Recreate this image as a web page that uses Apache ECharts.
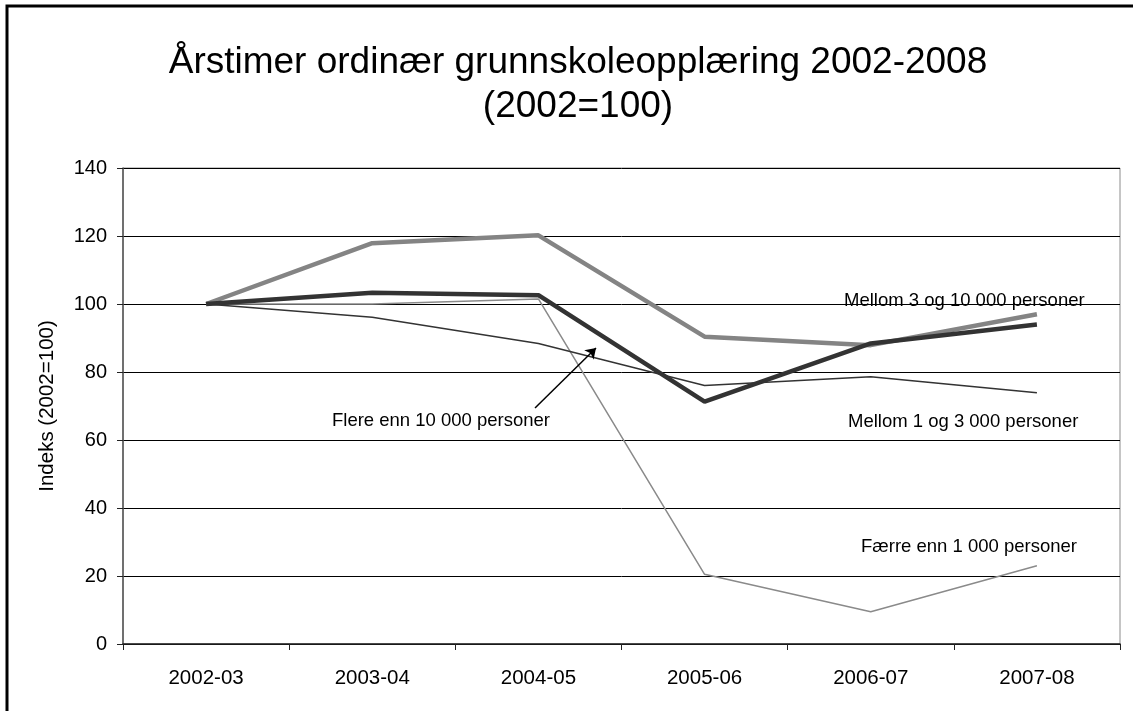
<!DOCTYPE html>
<html>
<head>
    <meta charset="UTF-8">
    <title>Årstimer ordinær grunnskoleopplæring</title>
    <script src="https://cdn.jsdelivr.net/npm/echarts@6/dist/echarts.min.js"></script>
    <style>
        body, html {
            margin: 0;
            padding: 0;
            height: 100%;
            width: 100%;
            background: #fff;
        }

        #chart {
            width: 1133px;
            height: 711px;
        }
    </style>
</head>
<body>
<div id="chart"></div>
<script>
    var years = ['2002-03', '2003-04', '2004-05', '2005-06', '2006-07', '2007-08'];
    var mellom3og10000 = [100, 117.9, 120.2, 90.4, 87.9, 97.0];
    var flere10000 = [100, 103.3, 102.6, 71.3, 88.4, 94.0];
    var mellom1og3000 = [100, 96.1, 88.4, 76.0, 78.6, 73.9];
    var faerre1000 = [100, 100, 101.5, 20.5, 9.5, 23.0];
    var yTicks = {min: 0, max: 140, interval: 20};

    var font = 'Liberation Sans, Arial, sans-serif';
    var chart = echarts.init(document.getElementById('chart'), null, {renderer: 'canvas'});

    function lineSeries(name, data, color, width) {
        return {
            name: name,
            type: 'line',
            data: data,
            symbol: 'none',
            silent: true,
            lineStyle: {color: color, width: width},
            z: width > 2 ? 3 : 2
        };
    }

    var series = [
        lineSeries('Færre enn 1 000 personer', faerre1000, '#8a8a8a', 1.5),
        lineSeries('Mellom 1 og 3 000 personer', mellom1og3000, '#333333', 1.5),
        lineSeries('Mellom 3 og 10 000 personer', mellom3og10000, '#848484', 4.5),
        lineSeries('Flere enn 10 000 personer', flere10000, '#333333', 4.5)
    ];
    // pil fra etiketten til linja
    series[3].markLine = {
        silent: true,
        symbol: ['none', 'arrow'],
        symbolSize: 10,
        label: {show: false},
        lineStyle: {color: '#000', width: 1.5, type: 'solid'},
        data: [[{x: 535, y: 408}, {x: 596, y: 348}]]
    };

    function note(text, x, y) {
        return {
            type: 'text',
            x: x,
            y: y,
            z: 10,
            style: {
                text: text,
                fill: '#000',
                font: '18.5px ' + font,
                textVerticalAlign: 'middle'
            }
        };
    }

    chart.setOption({
        animation: false,
        title: {
            text: 'Årstimer ordinær grunnskoleopplæring 2002-2008\n(2002=100)',
            left: 573,
            top: 36,
            textAlign: 'center',
            textStyle: {fontFamily: font, fontSize: 37, fontWeight: 'normal', color: '#000', lineHeight: 44}
        },
        grid: {
            left: 123, right: 13, top: 168, bottom: 67,
            show: true, borderColor: '#8c8c8c', borderWidth: 1
        },
        xAxis: {
            type: 'category',
            data: years,
            boundaryGap: true,
            axisLine: {lineStyle: {color: '#222', width: 1.5}},
            axisTick: {show: true, inside: false, length: 6, alignWithLabel: false, interval: 0, lineStyle: {color: '#222'}},
            axisLabel: {fontFamily: font, fontSize: 20.5, color: '#000', margin: 24, interval: 0}
        },
        yAxis: {
            type: 'value',
            min: yTicks.min,
            max: yTicks.max,
            interval: yTicks.interval,
            name: 'Indeks (2002=100)',
            nameLocation: 'middle',
            nameRotate: 90,
            nameGap: 65,
            nameTextStyle: {fontFamily: font, fontSize: 20.5, color: '#000'},
            axisLine: {show: true, lineStyle: {color: '#555', width: 1.5}},
            axisTick: {show: true, length: 6, lineStyle: {color: '#222'}},
            axisLabel: {fontFamily: font, fontSize: 20, color: '#000', margin: 16},
            splitLine: {show: true, lineStyle: {color: '#000', width: 1}}
        },
        graphic: [
            {
                type: 'rect',
                shape: {x: 7, y: 6, width: 1150, height: 730},
                style: {fill: 'none', stroke: '#000', lineWidth: 3},
                silent: true
            },
            note('Mellom 3 og 10 000 personer', 844, 301),
            note('Mellom 1 og 3 000 personer', 848, 422),
            note('Færre enn 1 000 personer', 861, 547),
            note('Flere enn 10 000 personer', 332, 421)
        ],
        series: series
    });
</script>
</body>
</html>
